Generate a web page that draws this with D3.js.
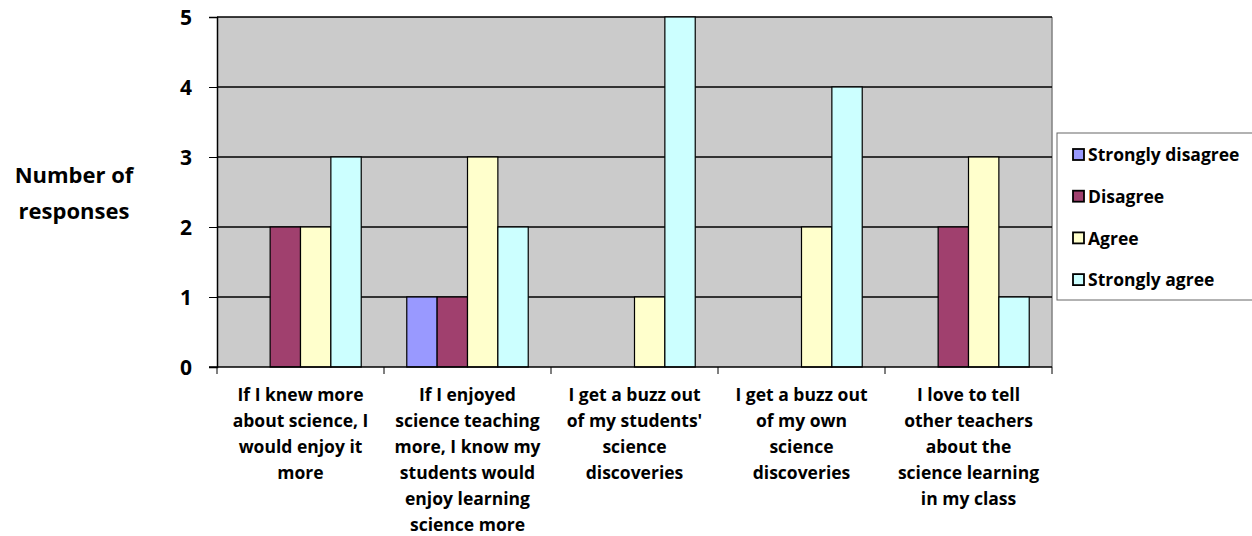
<!DOCTYPE html>
<html>
<head>
<meta charset="utf-8">
<script src="https://cdn.jsdelivr.net/npm/d3@7"></script>
<style>
  body { margin: 0; background: #fff; }
  svg text { font-family: "Open Sans", sans-serif; font-weight: bold; fill: #000; }
</style>
</head>
<body>
<div id="chart"></div>
<script>
// Survey responses, one group of bars per statement

var categories = [
  ['If I knew more', 'about science, I', 'would enjoy it', 'more'],
  ['If I enjoyed', 'science teaching', 'more, I know my', 'students would', 'enjoy learning', 'science more'],
  ['I get a buzz out', "of my students'", 'science', 'discoveries'],
  ['I get a buzz out', 'of my own', 'science', 'discoveries'],
  ['I love to tell', 'other teachers', 'about the', 'science learning', 'in my class']
];
var seriesNames = ['Strongly disagree', 'Disagree', 'Agree', 'Strongly agree'];
var seriesColors = ['#9999ff', '#a0406e', '#ffffcc', '#ccffff'];
var stronglyDisagree = [0, 1, 0, 0, 0];
var disagree = [2, 1, 0, 0, 2];
var agree = [2, 3, 1, 2, 3];
var stronglyAgree = [3, 2, 5, 4, 1];
var yTicks = [0, 1, 2, 3, 4, 5];

var series = [stronglyDisagree, disagree, agree, stronglyAgree];

var W = 1252, H = 536;
var plot = { left: 217, right: 1052, top: 17, bottom: 367 };

var svg = d3.select('#chart').append('svg')
  .attr('width', W).attr('height', H);

var x0 = d3.scaleBand()
  .domain(d3.range(categories.length))
  .range([plot.left, plot.right]);

// Excel-style gap width 150%: 4 bars + 1.5 bar of gap per category
var barW = x0.bandwidth() / 5.5;
var groupOffset = barW * 0.75;

var y = d3.scaleLinear().domain([0, 5]).range([plot.bottom, plot.top]);

// plot background
svg.append('rect')
  .attr('x', plot.left).attr('y', plot.top)
  .attr('width', plot.right - plot.left).attr('height', plot.bottom - plot.top)
  .attr('fill', '#cbcbcb');

// right border
svg.append('line')
  .attr('x1', plot.right).attr('x2', plot.right)
  .attr('y1', plot.top).attr('y2', plot.bottom)
  .attr('stroke', '#808080').attr('stroke-width', 1.5);

// gridlines
svg.append('g').selectAll('line')
  .data(yTicks.filter(function (d) { return d > 0; }))
  .join('line')
  .attr('x1', plot.left).attr('x2', plot.right)
  .attr('y1', function (d) { return y(d); })
  .attr('y2', function (d) { return y(d); })
  .attr('stroke', '#000').attr('stroke-width', 1.5);

// bars
var bars = [];
series.forEach(function (vals, si) {
  vals.forEach(function (v, ci) {
    bars.push({ s: si, c: ci, v: v });
  });
});

svg.append('g').selectAll('rect')
  .data(bars.filter(function (d) { return d.v > 0; }))
  .join('rect')
  .attr('x', function (d) { return x0(d.c) + groupOffset + d.s * barW; })
  .attr('y', function (d) { return y(d.v); })
  .attr('width', barW)
  .attr('height', function (d) { return y(0) - y(d.v); })
  .attr('fill', function (d) { return seriesColors[d.s]; })
  .attr('stroke', '#000').attr('stroke-width', 1.2);

// y axis
var yAxis = svg.append('g')
  .attr('transform', 'translate(' + plot.left + ',0)')
  .call(d3.axisLeft(y).tickValues(yTicks).tickSize(8).tickPadding(17).tickFormat(d3.format('d')));
yAxis.select('.domain').attr('stroke', '#000').attr('stroke-width', 1.5);
yAxis.selectAll('.tick line').attr('stroke', '#000');
yAxis.selectAll('.tick text').style('font-size', '21px').attr('dy', '0.36em');

// x axis
var xAxis = svg.append('g')
  .attr('transform', 'translate(0,' + plot.bottom + ')');
xAxis.append('line')
  .attr('x1', plot.left - 8).attr('x2', plot.right)
  .attr('stroke', '#000').attr('stroke-width', 1.5);
xAxis.selectAll('.xtick')
  .data(d3.range(categories.length + 1))
  .join('line')
  .attr('class', 'xtick')
  .attr('x1', function (i) { return plot.left + i * x0.step(); })
  .attr('x2', function (i) { return plot.left + i * x0.step(); })
  .attr('y1', 0).attr('y2', 7)
  .attr('stroke', '#000');

var catLabels = xAxis.selectAll('.cat')
  .data(categories)
  .join('text')
  .attr('class', 'cat')
  .attr('text-anchor', 'middle')
  .style('font-size', '17.5px')
  .attr('transform', function (d, i) {
    return 'translate(' + (x0(i) + x0.bandwidth() / 2) + ',34)';
  });
catLabels.selectAll('tspan')
  .data(function (d) { return d; })
  .join('tspan')
  .attr('x', 0)
  .attr('y', function (d, i) { return i * 26; })
  .text(function (d) { return d; });

// y title
svg.append('text')
  .attr('text-anchor', 'middle')
  .style('font-size', '22px')
  .selectAll('tspan')
  .data(['Number of', 'responses'])
  .join('tspan')
  .attr('x', 74)
  .attr('y', function (d, i) { return 183 + i * 36; })
  .text(function (d) { return d; });

// legend
var legend = svg.append('g');
legend.append('rect')
  .attr('x', 1057).attr('y', 133)
  .attr('width', 200).attr('height', 167)
  .attr('fill', '#fff').attr('stroke', '#666').attr('stroke-width', 1);

var items = legend.selectAll('.item')
  .data(seriesNames)
  .join('g')
  .attr('class', 'item')
  .attr('transform', function (d, i) { return 'translate(1072,' + (155 + i * 41.7) + ')'; });
items.append('rect')
  .attr('x', 1).attr('y', -6)
  .attr('width', 11).attr('height', 11)
  .attr('fill', function (d, i) { return seriesColors[i]; })
  .attr('stroke', '#000').attr('stroke-width', 1.8);
items.append('text')
  .attr('x', 16).attr('dy', '0.36em')
  .style('font-size', '17.5px')
  .text(function (d) { return d; });
</script>
</body>
</html>
